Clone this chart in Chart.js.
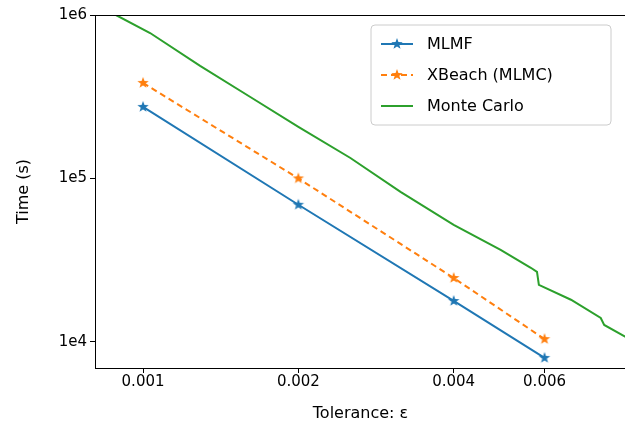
<!DOCTYPE html>
<html><head><meta charset="utf-8">
<script src="https://cdn.jsdelivr.net/npm/chart.js@4"></script>
<style>html,body{margin:0;background:#fff;overflow:hidden}#wrap{width:625px;height:427px;overflow:hidden}</style>
</head><body><div id="wrap"><canvas id="c" width="634" height="427"></canvas></div>
<script>
const tolerances = [0.001, 0.002, 0.004, 0.006];
const mlmfTime = [2.74e5, 6.9e4, 1.78e4, 7980];
const xbeachTime = [3.84e5, 1.0e5, 2.46e4, 1.04e4];
const mcTol = [0.000886, 0.001032, 0.00129, 0.001614, 0.002, 0.002523, 0.003155, 0.004, 0.004932, 0.005643, 0.005801, 0.00585, 0.00675, 0.00771, 0.00783, 0.00863];
const mcTime = [1e6, 7.76e5, 4.88e5, 3.15e5, 2.07e5, 1.334e5, 8.27e4, 5.2e4, 3.66e4, 2.84e4, 2.68e4, 2.23e4, 1.81e4, 1.40e4, 1.27e4, 1.07e4];
const xTicks = [0.001, 0.002, 0.004, 0.006];
const xTickLabels = ["0.001", "0.002", "0.004", "0.006"];
const yTicks = [1e4, 1e5, 1e6];
const yTickLabels = ["1e4", "1e5", "1e6"];

const FONT = "DejaVu Sans";
const BLUE = "#1f77b4", ORANGE = "#ff7f0e", GREEN = "#2ca02c";

function starImg(color, r) {
  const c = document.createElement("canvas");
  c.width = c.height = r * 2 + 2;
  const g = c.getContext("2d");
  g.beginPath();
  for (let i = 0; i < 10; i++) {
    const rr = i % 2 ? r * 0.4 : r;
    const a = -Math.PI / 2 + i * Math.PI / 5;
    const px = r + 1 + rr * Math.cos(a), py = r + 1 + rr * Math.sin(a);
    i ? g.lineTo(px, py) : g.moveTo(px, py);
  }
  g.closePath();
  g.fillStyle = color;
  g.fill();
  return c;
}
const blueStar = starImg(BLUE, 6), orangeStar = starImg(ORANGE, 6);

const xy = (xs, ys) => xs.map((x, i) => ({ x, y: ys[i] }));

const frame = {
  id: "frame",
  afterDraw(ch) {
    const a = ch.chartArea, g = ch.ctx;
    g.save();
    g.strokeStyle = "#000"; g.lineWidth = 1;
    g.strokeRect(a.left + 0.5, a.top + 0.5, a.right - a.left, a.bottom - a.top);
    // legend
    const lx = 371, ly = 25, w = 240, h = 100;
    g.fillStyle = "rgba(255,255,255,0.8)";
    g.strokeStyle = "#ccc";
    g.beginPath(); g.roundRect(lx, ly, w, h, 4); g.fill(); g.stroke();
    const items = [
      ["MLMF", BLUE, [], blueStar],
      ["XBeach (MLMC)", ORANGE, [6, 4], orangeStar],
      ["Monte Carlo", GREEN, [], null]
    ];
    items.forEach((it, i) => {
      const y = ly + 19 + i * 31;
      g.strokeStyle = it[1]; g.lineWidth = 2; g.setLineDash(it[2]);
      g.beginPath(); g.moveTo(lx + 10, y); g.lineTo(lx + 42, y); g.stroke();
      g.setLineDash([]);
      if (it[3]) g.drawImage(it[3], lx + 26 - 7, y - 7);
      g.fillStyle = "#000"; g.font = "16px " + FONT; g.textBaseline = "middle";
      g.fillText(it[0], lx + 56, y + 1);
    });
    g.restore();
  }
};

new Chart(document.getElementById("c"), {
  type: "line",
  data: {
    datasets: [
      { data: xy(mcTol, mcTime), borderColor: GREEN, borderWidth: 2, pointRadius: 0, tension: 0 },
      { data: xy(tolerances, xbeachTime), borderColor: ORANGE, borderWidth: 2, borderDash: [6, 4], pointStyle: orangeStar, pointRadius: 6 },
      { data: xy(tolerances, mlmfTime), borderColor: BLUE, borderWidth: 2, pointStyle: blueStar, pointRadius: 6 }
    ]
  },
  options: {
    responsive: false, animation: false,
    layout: { padding: { top: 15, right: 0, left: 10, bottom: 0 } },
    plugins: { legend: { display: false }, tooltip: { enabled: false } },
    scales: {
      x: {
        type: "logarithmic", min: 0.000807, max: 0.00863,
        afterBuildTicks: s => { s.ticks = xTicks.map(v => ({ value: v })); },
        afterFit: s => { s.height = 59; },
        ticks: { callback: (v) => xTickLabels[xTicks.indexOf(v)], color: "#000", font: { family: FONT, size: 15 }, maxRotation: 0, padding: 0 },
        grid: { display: true, drawOnChartArea: false, tickLength: 5, tickColor: "#000" },
        border: { color: "#000" },
        title: { display: true, text: "Tolerance: ε", color: "#000", font: { family: FONT, size: 16 }, padding: { top: 4 } }
      },
      y: {
        type: "logarithmic", min: 6920, max: 1e6,
        afterBuildTicks: s => { s.ticks = yTicks.map(v => ({ value: v })); },
        afterFit: s => { s.width = 85; },
        ticks: { callback: (v) => yTickLabels[yTicks.indexOf(v)], color: "#000", font: { family: FONT, size: 15 }, padding: 3 },
        grid: { display: true, drawOnChartArea: false, tickLength: 5, tickColor: "#000" },
        border: { color: "#000" },
        title: { display: true, text: "Time (s)", color: "#000", font: { family: FONT, size: 16 } }
      }
    }
  },
  plugins: [frame]
});
</script></body></html>
